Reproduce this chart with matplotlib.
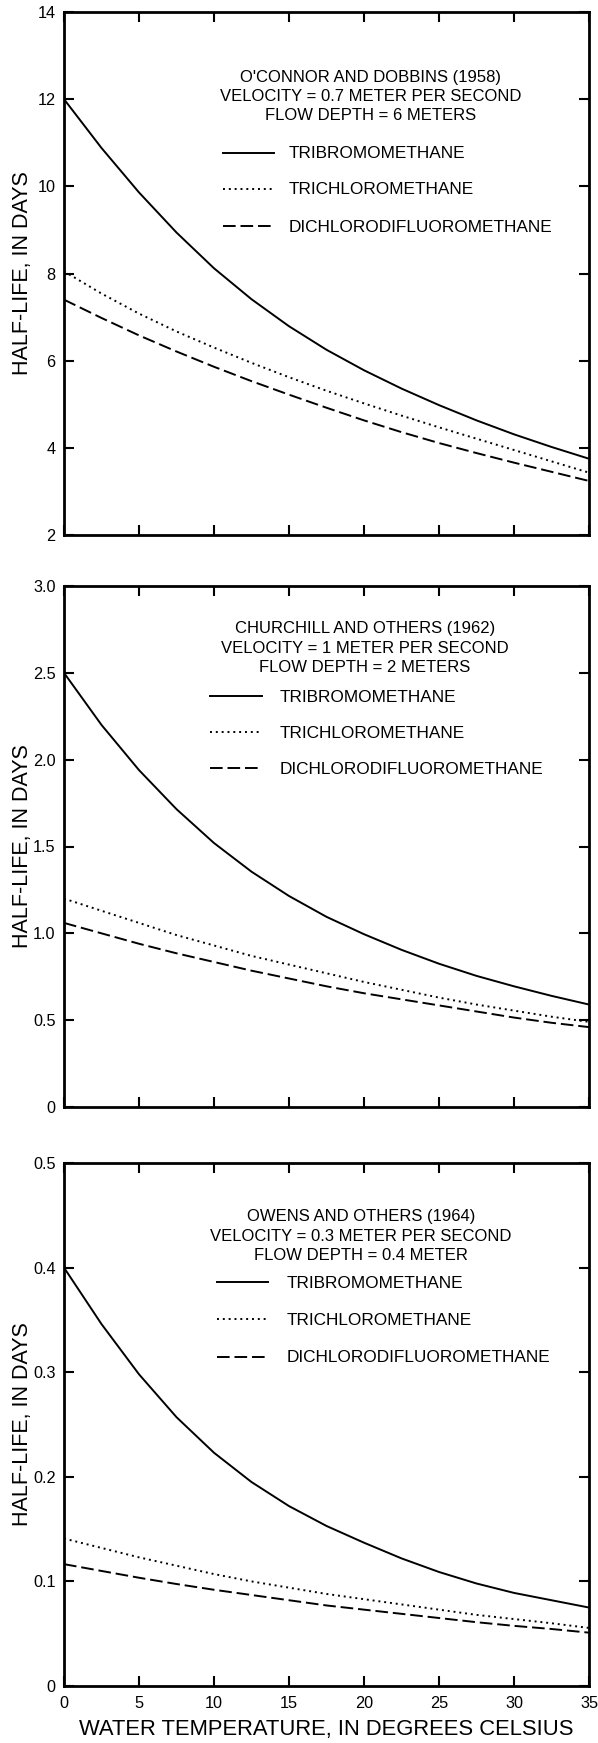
import matplotlib
matplotlib.use("Agg")
import matplotlib.pyplot as plt
from matplotlib.lines import Line2D

plt.rcParams['font.family'] = ['Liberation Sans', 'DejaVu Sans']

# ── Data ─────────────────────────────────────────────────────────────────────
temp = [0, 2.5, 5, 7.5, 10, 12.5, 15, 17.5, 20, 22.5, 25, 27.5, 30, 32.5, 35]

# O'Connor and Dobbins (1958)
ocd_tribromo = [12.0, 10.88, 9.86, 8.94, 8.12, 7.41, 6.79, 6.25, 5.78, 5.36, 4.98, 4.63, 4.31, 4.02, 3.75]
ocd_trichloro = [8.05, 7.54, 7.08, 6.67, 6.3, 5.95, 5.62, 5.31, 5.02, 4.74, 4.47, 4.21, 3.95, 3.69, 3.43]
ocd_dichloro = [7.4, 6.98, 6.58, 6.21, 5.86, 5.53, 5.22, 4.92, 4.63, 4.36, 4.11, 3.88, 3.66, 3.45, 3.24]

# Churchill and others (1962)
chu_tribromo = [2.5, 2.2, 1.94, 1.715, 1.52, 1.355, 1.215, 1.095, 0.995, 0.905, 0.825, 0.755, 0.695, 0.64, 0.59]
chu_trichloro = [1.2, 1.13, 1.06, 0.99, 0.93, 0.87, 0.82, 0.77, 0.72, 0.675, 0.63, 0.59, 0.555, 0.52, 0.49]
chu_dichloro = [1.06, 1.0, 0.94, 0.885, 0.835, 0.785, 0.74, 0.695, 0.655, 0.62, 0.585, 0.55, 0.515, 0.485, 0.46]

# Owens and others (1964)
owe_tribromo = [0.40, 0.346, 0.298, 0.257, 0.223, 0.195, 0.172, 0.153, 0.137, 0.122, 0.109, 0.098, 0.089, 0.082, 0.075]
owe_trichloro = [0.141, 0.132, 0.123, 0.115, 0.107, 0.1, 0.094, 0.088, 0.083, 0.078, 0.073, 0.068, 0.064, 0.06, 0.0555]
owe_dichloro = [0.1165, 0.11, 0.1035, 0.0975, 0.092, 0.087, 0.082, 0.077, 0.073, 0.069, 0.065, 0.061, 0.0575, 0.0545, 0.051]

compounds = ["TRIBROMOMETHANE", "TRICHLOROMETHANE", "DICHLORODIFLUOROMETHANE"]

titles_1 = ["O'CONNOR AND DOBBINS (1958)", "VELOCITY = 0.7 METER PER SECOND", "FLOW DEPTH = 6 METERS"]
titles_2 = ["CHURCHILL AND OTHERS (1962)", "VELOCITY = 1 METER PER SECOND", "FLOW DEPTH = 2 METERS"]
titles_3 = ["OWENS AND OTHERS (1964)", "VELOCITY = 0.3 METER PER SECOND", "FLOW DEPTH = 0.4 METER"]

yticks_1 = [2, 4, 6, 8, 10, 12, 14]
ylabels_1 = ["2", "4", "6", "8", "10", "12", "14"]
yticks_2 = [0, 0.5, 1.0, 1.5, 2.0, 2.5, 3.0]
ylabels_2 = ["0", "0.5", "1.0", "1.5", "2.0", "2.5", "3.0"]
yticks_3 = [0, 0.1, 0.2, 0.3, 0.4, 0.5]
ylabels_3 = ["0", "0.1", "0.2", "0.3", "0.4", "0.5"]
xticks = [0, 5, 10, 15, 20, 25, 30, 35]

# ── Layout (pixels of a 598 x 1743 canvas) ───────────────────────────────────
W, H = 598, 1743
def fx(x): return x / W
def fy(y): return 1 - y / H

styles = [
    dict(color="black", lw=1.4, linestyle="-"),
    dict(color="black", lw=1.4, linestyle=(0, (1, 2))),
    dict(color="black", lw=1.4, linestyle=(0, (6.5, 2.5))),
]

panels = [
    dict(top=12, bottom=535, series=[ocd_tribromo, ocd_trichloro, ocd_dichloro],
         yticks=yticks_1, ylabels=ylabels_1, titles=titles_1,
         title_x=371, title_y=[76, 95, 114],
         key_x=(223, 274), text_x=289, row_y=[152.5, 188.5, 225.5]),
    dict(top=586, bottom=1107, series=[chu_tribromo, chu_trichloro, chu_dichloro],
         yticks=yticks_2, ylabels=ylabels_2, titles=titles_2,
         title_x=365, title_y=[627, 647, 666],
         key_x=(210, 262), text_x=280, row_y=[695.5, 731.7, 768.3]),
    dict(top=1163, bottom=1686, series=[owe_tribromo, owe_trichloro, owe_dichloro],
         yticks=yticks_3, ylabels=ylabels_3, titles=titles_3,
         title_x=361, title_y=[1215, 1235, 1254],
         key_x=(217, 268), text_x=287, row_y=[1282, 1319, 1356.5]),
]

fig = plt.figure(figsize=(W / 100, H / 100), dpi=100, facecolor="white")

left, right = 64, 589
for i, p in enumerate(panels):
    ax = fig.add_axes([fx(left), fy(p["bottom"]), (right - left) / W,
                       (p["bottom"] - p["top"]) / H])
    for vals, st in zip(p["series"], styles):
        ax.plot(temp, vals, solid_joinstyle="round", **st)

    ax.set_xlim(0, 35)
    ax.set_ylim(p["yticks"][0], p["yticks"][-1])
    ax.set_xticks(xticks)
    ax.set_yticks(p["yticks"])
    ax.set_yticklabels(p["ylabels"])
    ax.tick_params(direction="in", length=7, width=1.5, top=True, right=True,
                   labelsize=11.7, colors="black")
    ax.tick_params(axis="y", pad=6)
    ax.tick_params(axis="x", pad=7)
    for sp in ax.spines.values():
        sp.set_linewidth(2)
    if i < 2:
        ax.set_xticklabels([])
    else:
        ax.set_xlabel("WATER TEMPERATURE, IN DEGREES CELSIUS", fontsize=15.8, labelpad=6)
    ax.set_ylabel("HALF-LIFE, IN DAYS", fontsize=15.5)
    ax.yaxis.set_label_coords(-0.059, 0.5)

    # header text
    for t, ty in zip(p["titles"], p["title_y"]):
        fig.text(fx(p["title_x"]), fy(ty), t, ha="center", va="center_baseline", fontsize=12)

    # key
    for name, st, ry in zip(compounds, styles, p["row_y"]):
        fig.add_artist(Line2D([fx(p["key_x"][0]), fx(p["key_x"][1])], [fy(ry), fy(ry)],
                              transform=fig.transFigure, **st))
        fig.text(fx(p["text_x"]), fy(ry), name, ha="left", va="center_baseline", fontsize=12.4)

fig.savefig("out.png", dpi=100, facecolor="white")
